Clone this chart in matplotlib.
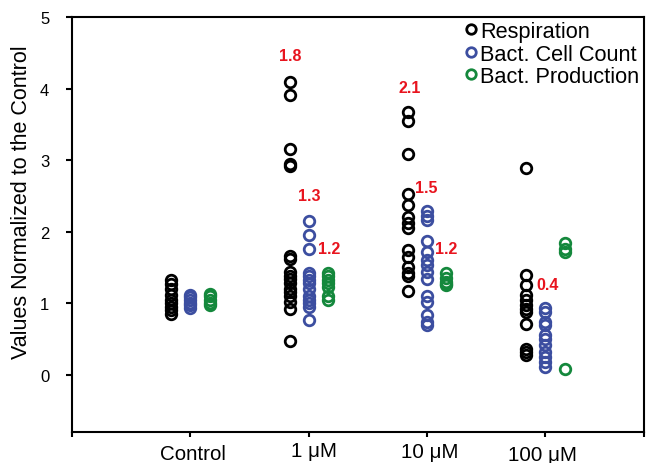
import matplotlib
matplotlib.use('Agg')
import matplotlib.pyplot as plt
import matplotlib.transforms as mtransforms

plt.rcParams['font.family'] = ['Liberation Sans', 'DejaVu Sans']

categories = ['Control', '1 μM', '10 μM', '100 μM']

respiration = [
    [1.32, 1.27, 1.20, 1.12, 1.05, 1.00, 0.95, 0.90, 0.85],
    [4.09, 3.91, 3.16, 2.95, 2.92, 1.66, 1.62, 1.44, 1.38, 1.34, 1.28, 1.20, 1.16, 1.10, 1.02, 0.92, 0.47],
    [3.67, 3.55, 3.08, 2.53, 2.37, 2.20, 2.12, 2.05, 1.75, 1.65, 1.50, 1.42, 1.38, 1.17],
    [2.89, 1.39, 1.25, 1.11, 1.04, 0.97, 0.92, 0.88, 0.71, 0.36, 0.32, 0.27],
]
cell_count = [
    [1.12, 1.08, 1.05, 1.00, 0.97, 0.93],
    [2.15, 1.95, 1.76, 1.42, 1.38, 1.33, 1.28, 1.20, 1.10, 1.05, 1.00, 0.95, 0.77],
    [2.29, 2.22, 2.16, 1.87, 1.72, 1.60, 1.53, 1.44, 1.34, 1.10, 1.01, 0.83, 0.74, 0.69],
    [0.93, 0.88, 0.74, 0.70, 0.55, 0.50, 0.41, 0.32, 0.25, 0.18, 0.11],
]
production = [
    [1.13, 1.10, 1.05, 1.00, 0.97],
    [1.42, 1.38, 1.33, 1.28, 1.22, 1.10, 1.05],
    [1.42, 1.35, 1.30, 1.27, 1.25],
    [1.84, 1.76, 1.72, 0.08],
]
series_names = ['Respiration', 'Bact. Cell Count', 'Bact. Production']

ratio_labels = ['1.8', '1.3', '1.2', '2.1', '1.5', '1.2', '0.4']
ratio_x = [1.843, 2.003, 2.172, 2.857, 2.992, 3.161, 4.024]
ratio_y = [4.46, 2.51, 1.76, 4.01, 2.62, 1.77, 1.26]

colors = ['#000000', '#3c4ea0', '#14883c']
offsets = [-0.16, 0.0, 0.165]

W, H = 646, 464
fig = plt.figure(figsize=(W / 100, H / 100), dpi=100)
ax = fig.add_axes([72 / W, (H - 433) / H, (644 - 72) / W, (433 - 18) / H])

xmax = 4.835
handles = []
for s, (data, col, off, name) in enumerate(zip([respiration, cell_count, production], colors, offsets, series_names)):
    for i, vals in enumerate(data):
        h, = ax.plot([i + 1 + off] * len(vals), vals, linestyle='none', marker='o',
                     markersize=7.6, markerfacecolor='none', markeredgecolor=col,
                     markeredgewidth=2.0, label=name if i == 0 else None)
        if i == 0:
            handles.append(h)

for lab, x, y in zip(ratio_labels, ratio_x, ratio_y):
    ax.text(x, y, lab, color='#e8141e', fontsize=11.5, fontweight='bold',
            ha='center', va='center')

ax.set_xlim(0, xmax)
ax.set_ylim(-0.8, 5)
ax.set_xticks([0, 1, 2, 3, 4, xmax])
ax.set_xticklabels([''] * 6)
ax.set_yticks([0, 1, 2, 3, 4, 5])
ax.tick_params(axis='x', direction='out', length=3.8, width=1.5)
ax.tick_params(axis='y', direction='out', length=4.3, width=1.5, pad=12, labelsize=12)
for sp in ax.spines.values():
    sp.set_linewidth(1.5)

trans = mtransforms.blended_transform_factory(ax.transData, ax.transAxes)
label_dx = [0.02, 0.046, 0.026, -0.02]
label_y = [-0.064, -0.058, -0.061, -0.068]
for i, (cat, dx, yy) in enumerate(zip(categories, label_dx, label_y)):
    ax.text(i + 1 + dx, yy, cat, transform=trans, ha='center', va='baseline', fontsize=14.8)

fig.text(22 / W, 1 - 202 / H, 'Values Normalized to the Control', rotation=90,
         ha='center', va='center', fontsize=15.5)

ax.legend(handles=handles, loc='upper left', bbox_to_anchor=(464 / W, 1 - 22 / H),
          bbox_transform=fig.transFigure, frameon=False, fontsize=15.7,
          handlelength=0.6, handletextpad=0.15, labelspacing=0.07,
          borderaxespad=0, borderpad=0, markerscale=0.9)

fig.savefig('out.png', dpi=100)
